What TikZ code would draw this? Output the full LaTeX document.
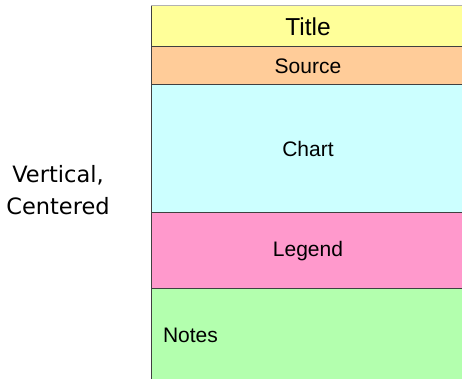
\documentclass[tikz,border=0pt]{standalone}
\usepackage{fontspec}
\setmainfont{Liberation Sans}
\newfontfamily\sidefont{DejaVu Sans}
\usetikzlibrary{positioning}
\definecolor{titlefill}{HTML}{FFFF99}
\definecolor{sourcefill}{HTML}{FFCC99}
\definecolor{chartfill}{HTML}{CCFFFF}
\definecolor{legendfill}{HTML}{FF99CC}
\definecolor{notesfill}{HTML}{B3FFAE}
\tikzset{band/.style={draw=black!75,line width=1pt,minimum width=314pt,
    inner sep=0pt,outer sep=0pt,font=\fontsize{21}{24}\selectfont}}

\begin{document}
\begin{tikzpicture}[x=1pt,y=1pt]
  \useasboundingbox (0,0) rectangle (462,379);
  % ====== Stacked page areas ======
  \node[band,fill=titlefill,minimum height=41pt,anchor=north west,
    font=\fontsize{24.5}{28}\selectfont] (title) at (151,373) {Title};
  \node[band,fill=sourcefill,minimum height=38pt,below=0pt of title] (source) {Source};
  \node[band,fill=chartfill,minimum height=128pt,below=0pt of source] (chart) {Chart};
  \node[band,fill=legendfill,minimum height=76pt,below=0pt of chart] (legend) {Legend};
  \node[band,fill=notesfill,minimum height=92pt,below=0pt of legend,
    inner xsep=12pt,text width=290pt,align=left] (notes) {Notes};
  \draw[gray!60,line width=1pt] (title.north west) -- (title.north east); % top rule

  % ====== Layout caption ======
  \node[font=\sidefont\fontsize{22.5}{32}\selectfont,align=center] (layout) at (58,189)
    {Vertical,\\Centered};
\end{tikzpicture}
\end{document}
